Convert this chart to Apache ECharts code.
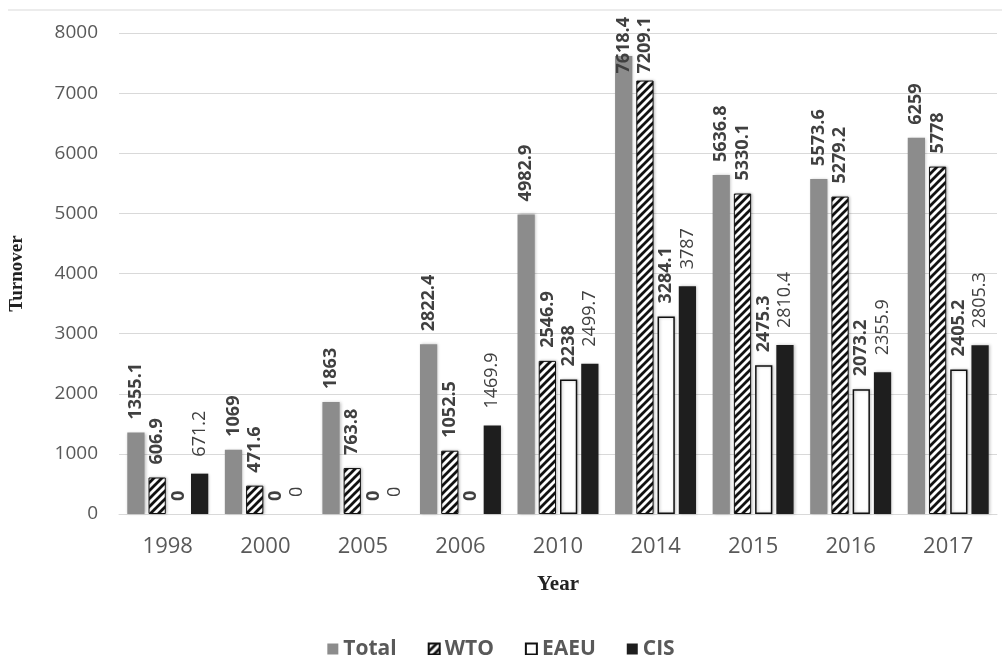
<!DOCTYPE html>
<html>
<head>
<meta charset="utf-8">
<script src="https://cdn.jsdelivr.net/npm/echarts@6/dist/echarts.min.js"></script>
<style>
  html, body { margin: 0; padding: 0; background: #fff; }
  #box1 { width: 1002px; height: 655px; }
</style>
</head>
<body>
<div id="box1"></div>
<script>
let years = ['1998', '2000', '2005', '2006', '2010', '2014', '2015', '2016', '2017'];
let total = [1355.1, 1069, 1863, 2822.4, 4982.9, 7618.4, 5636.8, 5573.6, 6259];
let wto = [606.9, 471.6, 763.8, 1052.5, 2546.9, 7209.1, 5330.1, 5279.2, 5778];
let eaeu = [0, 0, 0, 0, 2238, 3284.1, 2475.3, 2073.2, 2405.2];
let cis = [671.2, 0, 0, 1469.9, 2499.7, 3787, 2810.4, 2355.9, 2805.3];

// diagonal hatch for WTO
let hatch = document.createElement('canvas');
hatch.width = 8;
hatch.height = 8;
let hc = hatch.getContext('2d');
hc.fillStyle = '#fff';
hc.fillRect(0, 0, 8, 8);
hc.strokeStyle = '#111';
hc.lineWidth = 2.8;
hc.beginPath();
for (let k = -1; k <= 1; k++) {
    hc.moveTo(k * 8 - 1, 9);
    hc.lineTo(k * 8 + 9, -1);
}
hc.stroke();

let font = '"Open Sans", sans-serif';
let shadow = { shadowBlur: 3, shadowColor: 'rgba(0,0,0,0.25)', shadowOffsetX: 1, shadowOffsetY: 0 };

function lbl(bold) {
    return {
        show: true,
        position: 'top',
        rotate: 90,
        align: 'left',
        verticalAlign: 'middle',
        distance: bold ? 13 : 17,
        color: '#404040',
        fontSize: 18,
        fontFamily: font,
        fontWeight: bold ? 'bold' : 'normal'
    };
}

let box1 = document.querySelector('#box1');
let myChart1 = echarts.init(box1);
let option1 = {
    animation: false,
    grid: {
        left: 117,
        right: 5,
        top: 33,
        bottom: 141
    },
    legend: {
        left: 'center',
        top: 632,
        icon: 'rect',
        itemWidth: 11,
        itemHeight: 11,
        itemGap: 31,
        textStyle: {
            color: '#595959',
            fontSize: 21,
            lineHeight: 24,
            fontWeight: 'bold',
            fontFamily: font
        },
        data: ['Total', 'WTO', 'EAEU', 'CIS']
    },
    graphic: [
        {
            type: 'line',
            shape: { x1: 8, y1: 10, x2: 1002, y2: 10 },
            style: { stroke: '#d9d9d9', lineWidth: 1 }
        }
    ],
    // keep the tallest labels inside the chart like the original
    // (label is rotated, so its local x runs upward on screen)
    labelLayout: function (params) {
        let r = params.labelRect;
        if (r.y < 17) {
            return { dx: r.y - 17 };
        }
    },
    xAxis: {
        type: 'category',
        data: years,
        name: 'Year',
        nameLocation: 'middle',
        nameGap: 60,
        nameTextStyle: {
            fontFamily: '"Liberation Serif", serif',
            fontWeight: 'bold',
            fontSize: 21,
            color: '#222'
        },
        axisLine: { lineStyle: { color: '#d9d9d9' } },
        axisTick: { show: false },
        axisLabel: {
            color: '#595959',
            fontSize: 22,
            fontFamily: font,
            margin: 22
        }
    },
    yAxis: {
        type: 'value',
        min: 0,
        max: 8000,
        interval: 1000,
        name: 'Turnover',
        nameLocation: 'middle',
        nameGap: 92,
        nameTextStyle: {
            fontFamily: '"Liberation Serif", serif',
            fontWeight: 'bold',
            fontSize: 19,
            color: '#222'
        },
        splitLine: { lineStyle: { color: '#d9d9d9' } },
        axisLabel: {
            color: '#595959',
            fontSize: 19,
            fontFamily: font,
            margin: 21,
            formatter: function (v) { return String(v); }
        }
    },
    series: [
        {
            name: 'Total',
            type: 'bar',
            data: total,
            barGap: '23%',
            barCategoryGap: '17%',
            itemStyle: Object.assign({ color: '#8c8c8c' }, shadow),
            label: lbl(true)
        },
        {
            name: 'WTO',
            type: 'bar',
            data: wto,
            itemStyle: Object.assign({
                color: { image: hatch, repeat: 'repeat' },
                borderColor: '#111',
                borderWidth: 1
            }, shadow),
            label: lbl(true)
        },
        {
            name: 'EAEU',
            type: 'bar',
            data: eaeu.map(function (v) {
                return v === 0 ? { value: v, itemStyle: { borderWidth: 0, shadowBlur: 0 } } : v;
            }),
            itemStyle: Object.assign({
                color: '#fff',
                borderColor: '#111',
                borderWidth: 1.5
            }, shadow),
            label: lbl(true)
        },
        {
            name: 'CIS',
            type: 'bar',
            data: cis,
            itemStyle: Object.assign({ color: '#1e1e1e' }, shadow),
            label: lbl(false)
        }
    ]
};
myChart1.setOption(option1);
</script>
</body>
</html>
